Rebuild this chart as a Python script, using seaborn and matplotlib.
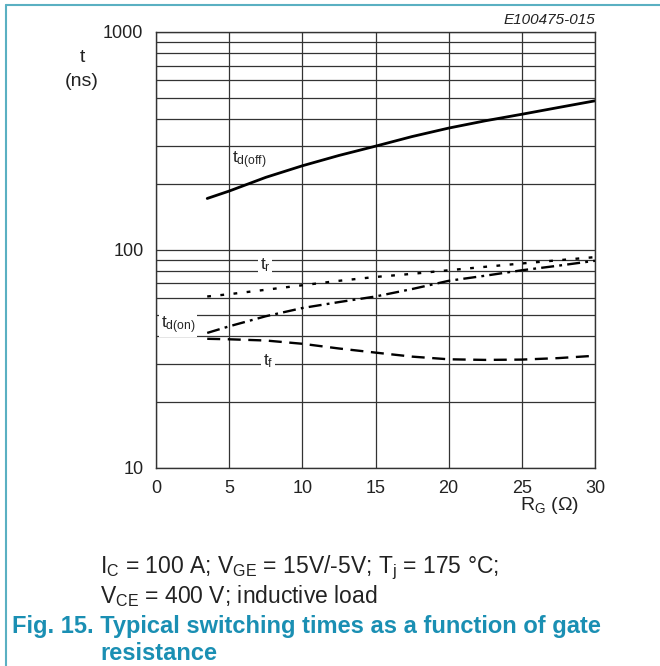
import matplotlib
matplotlib.use("Agg")
import matplotlib.pyplot as plt
import numpy as np
import seaborn as sns
from matplotlib.lines import Line2D
from matplotlib.ticker import LogLocator, NullFormatter, FixedLocator

# valeurs
rg = [3.5, 5, 7.5, 10, 12.5, 15, 17.5, 20, 22.5, 25, 27.5, 30]
td_off = [172, 186, 215, 243, 271, 299, 331, 362, 391, 419, 450, 483]
t_r = [61, 62.5, 65.5, 68.7, 72, 75, 77.5, 80.5, 83.5, 86.5, 89.5, 92.5]
td_on = [41.5, 44.5, 49.5, 54, 57.5, 61, 66, 72, 76, 80.5, 84.5, 89]
t_f = [39, 38.8, 38.3, 37, 35.2, 33.7, 32.3, 31.4, 31.2, 31.3, 31.8, 32.6]

x_ticks = [0, 5, 10, 15, 20, 25, 30]
y_ticks = [10, 100, 1000]

sns.set_style("white")
plt.rcParams['font.family'] = ['Liberation Sans', 'DejaVu Sans']
plt.rcParams['mathtext.fontset'] = 'custom'
plt.rcParams['mathtext.rm'] = 'Liberation Sans'
plt.rcParams['mathtext.it'] = 'Liberation Sans:italic'
plt.rcParams['mathtext.default'] = 'regular'

W, H = 660, 666
fig = plt.figure(figsize=(W / 100, H / 100), dpi=100)
ax = fig.add_axes([156 / W, 1 - 467.5 / H, (595 - 156) / W, (467.5 - 32) / H])

ax.set_yscale('log')
ax.set_xlim(0, 30)
ax.set_ylim(10, 1000)

# courbes
lw = 1.7
sns.lineplot(x=rg, y=td_off, ax=ax, color='black', lw=2.0)
sns.lineplot(x=rg, y=t_r, ax=ax, color='black', lw=lw, linestyle=(0, (1.6, 4.0)))
sns.lineplot(x=rg, y=td_on, ax=ax, color='black', lw=lw, linestyle=(0, (5.5, 2.2, 1.2, 2.2)))
sns.lineplot(x=rg, y=t_f, ax=ax, color='black', lw=lw, linestyle=(0, (5.5, 3.2)))

# grille
ax.xaxis.set_major_locator(FixedLocator(x_ticks))
ax.yaxis.set_major_locator(FixedLocator(y_ticks))
ax.yaxis.set_minor_locator(LogLocator(base=10, subs=np.arange(2, 10)))
ax.yaxis.set_minor_formatter(NullFormatter())
ax.set_xticklabels([str(v) for v in x_ticks])
ax.set_yticklabels([str(v) for v in y_ticks])
ax.grid(True, which='major', axis='both', color='#333333', lw=0.9)
ax.grid(True, which='minor', axis='y', color='#333333', lw=0.9)
ax.tick_params(which='both', length=0, labelsize=13, colors='#222222')
ax.tick_params(axis='y', pad=9)
ax.tick_params(axis='x', pad=9)
for sp in ax.spines.values():
    sp.set_visible(True)
    sp.set_color('#333333')
    sp.set_linewidth(1.0)

# étiquettes des courbes
box = dict(facecolor='white', edgecolor='none', pad=1.0)
ax.text(6.4, 258, '$t_{d(off)}$', fontsize=12.5, ha='center', va='center')
ax.text(7.45, 85, '$t_{r}$', fontsize=12.5, ha='center', va='center', bbox=box)
ax.text(1.5, 45, '$t_{d(on)}$', fontsize=12.5, ha='center', va='center', bbox=box)
ax.text(7.65, 30.7, '$t_{f}$', fontsize=12.5, ha='center', va='center', bbox=box)


def ft(x, y, s, **kw):
    fig.text(x / W, 1 - y / H, s, **kw)


ft(82, 58, 't', fontsize=14, ha='center', va='center', color='#222222')
ft(82, 82, '(ns)', fontsize=14, ha='center', va='center', color='#222222')
ft(550, 506, 'R$_G$ (Ω)', fontsize=14, ha='center', va='center', color='#222222')
ft(595, 20, 'E100475-015', fontsize=11, style='italic', ha='right', va='center', color='#222222')

ft(100, 568, 'I$_C$ = 100 A; V$_{GE}$ = 15V/-5V; T$_j$ = 175 °C;', fontsize=16.5,
   ha='left', va='center', color='#222222')
ft(100, 596, 'V$_{CE}$ = 400 V; inductive load', fontsize=16.5,
   ha='left', va='center', color='#222222')
ft(12, 626, 'Fig. 15. Typical switching times as a function of gate', fontsize=17,
   weight='bold', ha='left', va='center', color='#1a8fb3')
ft(100, 653, 'resistance', fontsize=17, weight='bold', ha='left', va='center', color='#1a8fb3')

# cadre
cadre = '#5ab0c2'
fig.add_artist(Line2D([6 / W, 6 / W], [0, 1 - 5 / H], color=cadre, lw=1.5))
fig.add_artist(Line2D([6 / W, 1], [1 - 5 / H, 1 - 5 / H], color=cadre, lw=1.5))

fig.savefig('out.png', dpi=100)
